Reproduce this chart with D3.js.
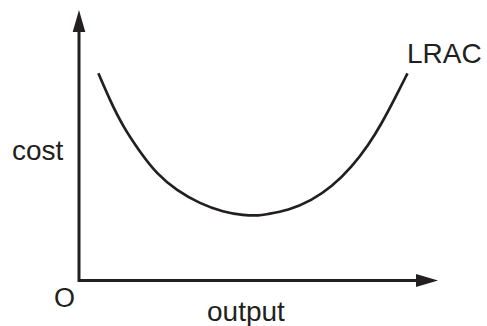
<!DOCTYPE html>
<html>
<head>
<meta charset="utf-8">
<script src="https://cdn.jsdelivr.net/npm/d3@7"></script>
<style>
  body { margin: 0; background: #fff; }
  text { font-family: "Liberation Sans", Arial, sans-serif; fill: #231f20; }
</style>
</head>
<body>
<div id="container"></div>
<script>
// LRAC curve: output (0-100) vs cost (0-100)
const output = [5.4, 8.6, 12.3, 17, 21.6, 27.2, 33.7, 40.2, 45.8, 50.4, 51.8, 58.3, 64.8, 70.4, 76, 80.6, 84.3, 88, 91.5];
const cost = [76.6, 66.7, 56.8, 47.5, 39.5, 33.3, 28.4, 25.3, 24.1, 24, 24.4, 25.9, 29.6, 34.6, 42, 50, 58, 67.3, 76.6];
const labels = { x: "output", y: "cost", origin: "O", curve: "LRAC" };

const width = 487,
  height = 326;
const ink = "#231f20";

const svg = d3
  .select("#container")
  .append("svg")
  .attr("width", width)
  .attr("height", height);

const xScale = d3.scaleLinear().domain([0, 100]).range([79, 438]);
const yScale = d3.scaleLinear().domain([0, 100]).range([280.5, 10]);

// axes with arrowheads
const x0 = xScale(0),
  y0 = yScale(0);
svg
  .append("path")
  .attr("d", `M${x0},${yScale(92)} L${x0},${y0} L${xScale(94)},${y0}`)
  .attr("fill", "none")
  .attr("stroke", ink)
  .attr("stroke-width", 3);

// up arrow
const yTip = yScale(100);
svg
  .append("path")
  .attr("d", `M${x0},${yTip} L${x0 + 6.3},${yTip + 22} L${x0 - 6.3},${yTip + 22} Z`)
  .attr("fill", ink);

// right arrow
const xTip = xScale(100);
svg
  .append("path")
  .attr("d", `M${xTip},${y0} L${xTip - 22},${y0 - 6.5} L${xTip - 22},${y0 + 6.5} Z`)
  .attr("fill", ink);

const line = d3
  .line()
  .x((d, i) => xScale(output[i]))
  .y((d, i) => yScale(cost[i]))
  .curve(d3.curveBasis);

svg
  .append("path")
  .datum(output)
  .attr("d", line)
  .attr("fill", "none")
  .attr("stroke", ink)
  .attr("stroke-width", 2.7);

svg.append("text").attr("x", 12).attr("y", 160).style("font-size", "28px").text(labels.y);
svg.append("text").attr("x", 407).attr("y", 63).style("font-size", "28px").text(labels.curve);
svg.append("text").attr("x", 54).attr("y", 307).style("font-size", "27px").text(labels.origin);
svg.append("text").attr("x", 207).attr("y", 321).style("font-size", "28px").text(labels.x);
</script>
</body>
</html>
